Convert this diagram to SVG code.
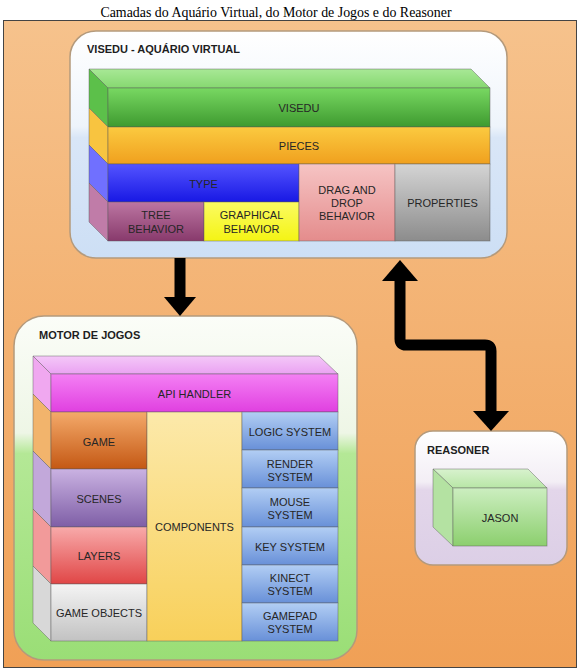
<svg xmlns="http://www.w3.org/2000/svg" width="581" height="670" viewBox="0 0 581 670">
<defs>
<linearGradient id="bg" x1="0" y1="0" x2="0" y2="1"><stop offset="0" stop-color="#f6c28c"/><stop offset="1" stop-color="#f0a056"/></linearGradient>
<linearGradient id="boxV" x1="0" y1="0" x2="0" y2="1"><stop offset="0" stop-color="#ffffff"/><stop offset="0.42" stop-color="#eef4fb"/><stop offset="0.47" stop-color="#d9e6f7"/><stop offset="1" stop-color="#cddff5"/></linearGradient>
<linearGradient id="boxM" x1="0" y1="0" x2="0" y2="1"><stop offset="0" stop-color="#fbfdf8"/><stop offset="0.34" stop-color="#eef6e6"/><stop offset="0.40" stop-color="#b4e896"/><stop offset="1" stop-color="#9ade76"/></linearGradient>
<linearGradient id="boxR" x1="0" y1="0" x2="0" y2="1"><stop offset="0" stop-color="#ffffff"/><stop offset="0.38" stop-color="#f3eef5"/><stop offset="0.44" stop-color="#e3d6ea"/><stop offset="1" stop-color="#dccfe6"/></linearGradient>
<linearGradient id="gGreen" x1="0" y1="0" x2="0" y2="1"><stop offset="0" stop-color="#78d862"/><stop offset="1" stop-color="#3e9a2f"/></linearGradient>
<linearGradient id="gGreenTop" x1="0" y1="0" x2="0" y2="1"><stop offset="0" stop-color="#a8e896"/><stop offset="1" stop-color="#86d870"/></linearGradient>
<linearGradient id="gOrange" x1="0" y1="0" x2="0" y2="1"><stop offset="0" stop-color="#fbca40"/><stop offset="1" stop-color="#f0a01e"/></linearGradient>
<linearGradient id="gBlue" x1="0" y1="0" x2="0" y2="1"><stop offset="0" stop-color="#5454ff"/><stop offset="1" stop-color="#1818e4"/></linearGradient>
<linearGradient id="gTree" x1="0" y1="0" x2="0" y2="1"><stop offset="0" stop-color="#bc76a2"/><stop offset="1" stop-color="#883a6c"/></linearGradient>
<linearGradient id="gYellow" x1="0" y1="0" x2="0" y2="1"><stop offset="0" stop-color="#fbfb62"/><stop offset="1" stop-color="#f4f414"/></linearGradient>
<linearGradient id="gDrag" x1="0" y1="0" x2="0" y2="1"><stop offset="0" stop-color="#f6c4c4"/><stop offset="1" stop-color="#e48c8c"/></linearGradient>
<linearGradient id="gProp" x1="0" y1="0" x2="0" y2="1"><stop offset="0" stop-color="#d4d4d4"/><stop offset="1" stop-color="#8c8c8c"/></linearGradient>
<linearGradient id="gMag" x1="0" y1="0" x2="0" y2="1"><stop offset="0" stop-color="#f480f4"/><stop offset="1" stop-color="#e040e0"/></linearGradient>
<linearGradient id="gMagTop" x1="0" y1="0" x2="0" y2="1"><stop offset="0" stop-color="#f4c8f8"/><stop offset="1" stop-color="#eaa2f2"/></linearGradient>
<linearGradient id="gGame" x1="0" y1="0" x2="0" y2="1"><stop offset="0" stop-color="#f4aa6a"/><stop offset="1" stop-color="#c45814"/></linearGradient>
<linearGradient id="gScenes" x1="0" y1="0" x2="0" y2="1"><stop offset="0" stop-color="#cab2e2"/><stop offset="1" stop-color="#7e5ea6"/></linearGradient>
<linearGradient id="gLayers" x1="0" y1="0" x2="0" y2="1"><stop offset="0" stop-color="#f8aaaa"/><stop offset="1" stop-color="#e04646"/></linearGradient>
<linearGradient id="gObj" x1="0" y1="0" x2="0" y2="1"><stop offset="0" stop-color="#f4f4f4"/><stop offset="1" stop-color="#c2c2c2"/></linearGradient>
<linearGradient id="gComp" x1="0" y1="0" x2="0" y2="1"><stop offset="0" stop-color="#fce9aa"/><stop offset="1" stop-color="#f8d05a"/></linearGradient>
<linearGradient id="gSys" x1="0" y1="0" x2="0" y2="1"><stop offset="0" stop-color="#b2cef4"/><stop offset="1" stop-color="#6890d8"/></linearGradient>
<linearGradient id="gJason" x1="0" y1="0" x2="0" y2="1"><stop offset="0" stop-color="#cceec0"/><stop offset="1" stop-color="#8ccf6e"/></linearGradient>
<linearGradient id="gJasonTop" x1="0" y1="0" x2="0" y2="1"><stop offset="0" stop-color="#d8f2ce"/><stop offset="1" stop-color="#b8e6a6"/></linearGradient>
</defs>
<style>
.t{font-family:"Liberation Sans",Arial,sans-serif;font-size:11px;fill:#262626;text-anchor:middle}
.h{font-family:"Liberation Sans",Arial,sans-serif;font-size:11px;font-weight:bold;fill:#1e1e1e}
.cap{font-family:"Liberation Serif","Times New Roman",serif;font-size:13.9px;fill:#000;text-anchor:middle}
.f{stroke:#5a5a5a;stroke-opacity:0.55;stroke-width:0.8}
.box{stroke:#b49a7c;stroke-width:1.5}
.arr{fill:none;stroke:#000;stroke-width:11;stroke-linejoin:round}
</style>

<text class="cap" x="276" y="17">Camadas do Aquário Virtual, do Motor de Jogos e do Reasoner</text>
<rect x="3.5" y="20.5" width="573" height="647" fill="url(#bg)" stroke="#444" stroke-width="1"/>

<g id="visedu-aquario">
<rect class="box" x="70" y="31" width="437" height="227" rx="26" fill="url(#boxV)"/>
<text class="h" x="87" y="53">VISEDU - AQUÁRIO VIRTUAL</text>
</g>

<g id="visedu-layer">
<polygon class="f" points="89,69 471,69 490,88 108,88" fill="url(#gGreenTop)"/>
<polygon class="f" points="89,69 108,88 108,127 89,108" fill="#5cc04a"/>
<rect class="f" x="108" y="88" width="382" height="39" fill="url(#gGreen)"/>
<text class="t" x="299" y="112">VISEDU</text>
</g>
<g id="pieces">
<polygon class="f" points="89,108 108,127 108,164 89,145" fill="#f8c440"/>
<rect class="f" x="108" y="127" width="382" height="37" fill="url(#gOrange)"/>
<text class="t" x="299" y="150">PIECES</text>
</g>
<g id="type">
<polygon class="f" points="89,145 108,164 108,202 89,183" fill="#7070ff"/>
<rect class="f" x="108" y="164" width="191" height="38" fill="url(#gBlue)"/>
<text class="t" x="203.5" y="188">TYPE</text>
</g>
<g id="tree-behavior">
<polygon class="f" points="89,183 108,202 108,241 89,222" fill="#c07ca8"/>
<rect class="f" x="108" y="202" width="96" height="39" fill="url(#gTree)"/>
<text class="t" x="156" y="219">TREE</text>
<text class="t" x="156" y="233">BEHAVIOR</text>
</g>
<g id="graphical-behavior">
<rect class="f" x="204" y="202" width="95" height="39" fill="url(#gYellow)"/>
<text class="t" x="251.5" y="219">GRAPHICAL</text>
<text class="t" x="251.5" y="233">BEHAVIOR</text>
</g>
<g id="drag-drop">
<rect class="f" x="299" y="164" width="96" height="77" fill="url(#gDrag)"/>
<text class="t" x="347" y="194">DRAG AND</text>
<text class="t" x="347" y="207">DROP</text>
<text class="t" x="347" y="220">BEHAVIOR</text>
</g>
<g id="properties">
<rect class="f" x="395" y="164" width="95" height="77" fill="url(#gProp)"/>
<text class="t" x="442.5" y="207">PROPERTIES</text>
</g>

<g id="motor-de-jogos">
<rect class="box" x="14" y="316" width="343" height="344" rx="30" fill="url(#boxM)"/>
<text class="h" x="39" y="339">MOTOR DE JOGOS</text>
</g>
<g id="api-handler">
<polygon class="f" points="33,356 319,356 338,374 51,374" fill="url(#gMagTop)"/>
<polygon class="f" points="33,356 51,374 51,412 33,394" fill="#f0a8f0"/>
<rect class="f" x="51" y="374" width="287" height="38" fill="url(#gMag)"/>
<text class="t" x="194.5" y="398">API HANDLER</text>
</g>
<g id="game">
<polygon class="f" points="33,394 51,412 51,469 33,451" fill="#f2b46c"/>
<rect class="f" x="51" y="412" width="96" height="57" fill="url(#gGame)"/>
<text class="t" x="99" y="446">GAME</text>
</g>
<g id="scenes">
<polygon class="f" points="33,451 51,469 51,527 33,509" fill="#c2a8da"/>
<rect class="f" x="51" y="469" width="96" height="58" fill="url(#gScenes)"/>
<text class="t" x="99" y="503">SCENES</text>
</g>
<g id="layers">
<polygon class="f" points="33,509 51,527 51,584 33,566" fill="#f29a9a"/>
<rect class="f" x="51" y="527" width="96" height="57" fill="url(#gLayers)"/>
<text class="t" x="99" y="560">LAYERS</text>
</g>
<g id="game-objects">
<polygon class="f" points="33,566 51,584 51,641 33,623" fill="#d8d8d8"/>
<rect class="f" x="51" y="584" width="96" height="57" fill="url(#gObj)"/>
<text class="t" x="99" y="617">GAME OBJECTS</text>
</g>
<g id="components">
<rect class="f" x="147" y="412" width="95" height="229" fill="url(#gComp)"/>
<text class="t" x="194.5" y="531">COMPONENTS</text>
</g>
<g id="logic-system">
<rect class="f" x="242" y="412" width="96" height="38" fill="url(#gSys)"/>
<text class="t" x="290" y="436">LOGIC SYSTEM</text>
</g>
<g id="render-system">
<rect class="f" x="242" y="450" width="96" height="38" fill="url(#gSys)"/>
<text class="t" x="290" y="468">RENDER</text>
<text class="t" x="290" y="481">SYSTEM</text>
</g>
<g id="mouse-system">
<rect class="f" x="242" y="488" width="96" height="39" fill="url(#gSys)"/>
<text class="t" x="290" y="506">MOUSE</text>
<text class="t" x="290" y="519">SYSTEM</text>
</g>
<g id="key-system">
<rect class="f" x="242" y="527" width="96" height="38" fill="url(#gSys)"/>
<text class="t" x="290" y="551">KEY SYSTEM</text>
</g>
<g id="kinect-system">
<rect class="f" x="242" y="565" width="96" height="38" fill="url(#gSys)"/>
<text class="t" x="290" y="582">KINECT</text>
<text class="t" x="290" y="595">SYSTEM</text>
</g>
<g id="gamepad-system">
<rect class="f" x="242" y="603" width="96" height="38" fill="url(#gSys)"/>
<text class="t" x="290" y="620">GAMEPAD</text>
<text class="t" x="290" y="633">SYSTEM</text>
</g>

<g id="reasoner">
<rect class="box" x="415" y="431" width="152" height="134" rx="18" fill="url(#boxR)"/>
<text class="h" x="427" y="454">REASONER</text>
</g>
<g id="jason">
<polygon class="f" points="433,469 528,469 547,488 453,488" fill="url(#gJasonTop)"/>
<polygon class="f" points="433,469 453,488 453,546 433,527" fill="#b4e2a2"/>
<rect class="f" x="453" y="488" width="94" height="58" fill="url(#gJason)"/>
<text class="t" x="500" y="522">JASON</text>
</g>

<g id="connectors">
<line class="arr" x1="180" y1="258" x2="180" y2="299"/>
<polygon points="164,297 196,297 180,316" fill="#000"/>
<path class="arr" d="M400,279 V339 Q400,345 406,345 H485 Q491,345 491,351 V412"/>
<polygon points="382,281 418,281 400,260" fill="#000"/>
<polygon points="473,411 509,411 491,431" fill="#000"/>
</g>
</svg>
